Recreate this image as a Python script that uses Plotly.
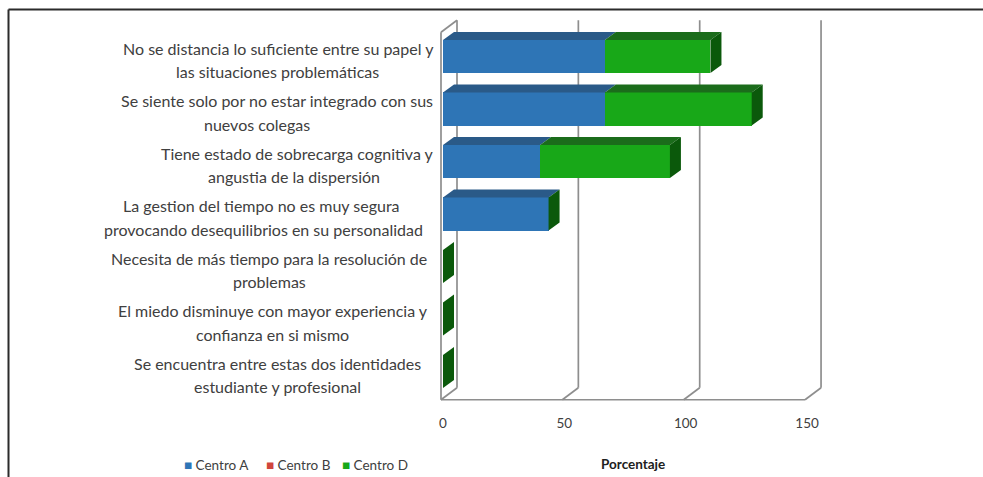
import plotly.graph_objects as go

# ---- data -------------------------------------------------------------
categories = [
    "No se distancia lo suficiente entre su papel y\nlas situaciones problemáticas",
    "Se siente solo por no estar integrado con sus\nnuevos colegas",
    "Tiene estado de sobrecarga cognitiva y\nangustia de la dispersión",
    "La gestion del tiempo no es muy segura\nprovocando desequilibrios en su personalidad",
    "Necesita de más tiempo para la resolución de\nproblemas",
    "El miedo disminuye con mayor experiencia y\nconfianza en si mismo",
    "Se encuentra entre estas dos identidades\nestudiante y profesional",
]
centro_a = [66.7, 66.7, 40.0, 43.5, 0, 0, 0]
centro_b = [0, 0, 0, 0, 0, 0, 0]
centro_d = [43.5, 60.5, 53.5, 0, 0, 0, 0]
series_names = ["Centro A", "Centro B", "Centro D"]
x_ticks = [0, 50, 100, 150]
x_title = "Porcentaje"

# ---- styling ----------------------------------------------------------
FRONT = ["#2e75b6", "#d0453c", "#18a818"]
TOP = ["#2a5a88", "#9c3430", "#1b6c1b"]
SIDE = "#0b590b"
WALL = "#8e8e8e"
TEXT = "#404040"
FONT = "Lato"

W, H = 983, 477
L_PX, R_PX, T_PX, B_PX = 436, 830, 12, 404   # plot area in page pixels
ZERO_PX = 443                                 # page x of value 0
ROW0_PX = 56.5                                # page y of first category
PX_X = 2.427                                  # pixels per percent
PX_ROW = 52.5                                 # pixels per category

BAR_W = 0.63
# oblique depth of a bar and of the wall planes, in pixels (dx right, dy up)
BAR_DEPTH = (11, 8)
FRONT_PLANE = (-2, -2)
BACK_PLANE = (14, 10)


def ux(px):
    return px / PX_X


def uy(px):
    return px / PX_ROW


def paper_x(px):
    return (px - L_PX) / (R_PX - L_PX)


def paper_y(py):
    return 1 - (py - T_PX) / (B_PX - T_PX)


n = len(categories)
rows = list(range(n))
series = [centro_a, centro_b, centro_d]

fig = go.Figure()

# front faces of the stacked bars
for k, vals in enumerate(series):
    base = [sum(s[i] for s in series[:k]) for i in rows]
    fig.add_trace(go.Bar(
        y=rows, x=vals, base=base, orientation="h", width=BAR_W,
        marker=dict(color=FRONT[k], line=dict(width=0)),
        name=series_names[k], showlegend=False, hoverinfo="skip",
    ))

# top faces of each segment
ddx, ddy = ux(BAR_DEPTH[0]), uy(BAR_DEPTH[1])
for k, vals in enumerate(series):
    xs, ys = [], []
    for i in rows:
        if vals[i] <= 0:
            continue
        x0 = sum(s[i] for s in series[:k])
        x1 = x0 + vals[i]
        yt = i - BAR_W / 2
        xs += [x0, x1, x1 + ddx, x0 + ddx, None]
        ys += [yt, yt, yt - ddy, yt - ddy, None]
    if xs:
        fig.add_trace(go.Scatter(
            x=xs, y=ys, mode="lines", fill="toself", fillcolor=TOP[k],
            line=dict(width=0), showlegend=False, hoverinfo="skip",
        ))

# end (side) face of every stack
xs, ys = [], []
for i in rows:
    tot = sum(s[i] for s in series)
    yt, yb = i - BAR_W / 2, i + BAR_W / 2
    xs += [tot, tot + ddx, tot + ddx, tot, None]
    ys += [yt, yt - ddy, yb - ddy, yb, None]
fig.add_trace(go.Scatter(
    x=xs, y=ys, mode="lines", fill="toself", fillcolor=SIDE,
    line=dict(width=0), showlegend=False, hoverinfo="skip",
))

# ---- walls and floor of the 3-D box ----------------------------------
fx, fy = ux(FRONT_PLANE[0]), -uy(FRONT_PLANE[1])
bx, by = ux(BACK_PLANE[0]), -uy(BACK_PLANE[1])
y_top, y_bot = -0.5, n - 0.5
shapes = []


def seg(x0, y0, x1, y1):
    shapes.append(dict(type="line", xref="x", yref="y", x0=x0, y0=y0,
                       x1=x1, y1=y1, layer="below",
                       line=dict(color=WALL, width=1.7)))


lo, hi = x_ticks[0], x_ticks[-1]
seg(lo + fx, y_top + fy, lo + fx, y_bot + fy)          # left wall, front edge
seg(lo + fx, y_top + fy, lo + bx, y_top + by)          # left wall, top edge
seg(lo + fx, y_bot + fy, hi + fx, y_bot + fy)          # floor, front edge
for t in x_ticks:
    seg(t + bx, y_top + by, t + bx, y_bot + by)        # back-wall gridline
    seg(t + fx, y_bot + fy, t + bx, y_bot + by)        # floor diagonal

# page frame
shapes.append(dict(type="line", xref="paper", yref="paper",
                   x0=paper_x(8.5), y0=paper_y(9.5), x1=paper_x(W), y1=paper_y(9.5),
                   line=dict(color="#2b2b2b", width=2)))
shapes.append(dict(type="line", xref="paper", yref="paper",
                   x0=paper_x(8.5), y0=paper_y(9.5), x1=paper_x(8.5), y1=paper_y(H),
                   line=dict(color="#2b2b2b", width=2)))

# ---- category labels (two centred lines each) ------------------------
label_cx = [
    (278, 277.5), (276.5, 257), (297.5, 294), (261, 263.5),
    (269, 269), (273, 272), (277, 277),
]
LINE_OFF = (uy(48 - ROW0_PX), uy(71.5 - ROW0_PX))
annotations = []
for i, text in enumerate(categories):
    for j, line in enumerate(text.split("\n")):
        annotations.append(dict(
            text=line, xref="paper", yref="y",
            x=paper_x(label_cx[i][j]), y=i + LINE_OFF[j],
            xanchor="center", yanchor="middle", showarrow=False,
            font=dict(family=FONT, size=16, color=TEXT),
        ))

# ---- legend -----------------------------------------------------------
legend_px = [182, 264, 340]
for k, name in enumerate(series_names):
    annotations.append(dict(
        text=f'<span style="color:{FRONT[k]}">■</span> {name}',
        xref="paper", yref="paper", x=paper_x(legend_px[k]), y=paper_y(465),
        xanchor="left", yanchor="middle", showarrow=False,
        font=dict(family=FONT, size=13.5, color=TEXT),
    ))

# axis title
annotations.append(dict(
    text=f"<b>{x_title}</b>", xref="paper", yref="paper",
    x=0.5, y=paper_y(464), xanchor="center", yanchor="middle", showarrow=False,
    font=dict(family=FONT, size=13.5, color="#202020"),
))

fig.update_layout(
    width=W, height=H,
    margin=dict(l=L_PX, r=W - R_PX, t=T_PX, b=H - B_PX),
    paper_bgcolor="white", plot_bgcolor="white",
    barmode="overlay", bargap=0,
    shapes=shapes, annotations=annotations,
    xaxis=dict(
        range=[ux(L_PX - ZERO_PX), ux(R_PX - ZERO_PX)],
        tickvals=x_ticks, ticktext=[str(t) for t in x_ticks],
        ticks="outside", ticklen=7, tickcolor="rgba(0,0,0,0)",
        showgrid=False, zeroline=False, showline=False,
        tickfont=dict(family=FONT, size=13.5, color=TEXT),
        fixedrange=True,
    ),
    yaxis=dict(
        range=[uy(B_PX - ROW0_PX), uy(T_PX - ROW0_PX)],
        showticklabels=False, showgrid=False, zeroline=False,
        showline=False, ticks="", fixedrange=True,
    ),
    showlegend=False,
)

fig.write_html("out.html")
